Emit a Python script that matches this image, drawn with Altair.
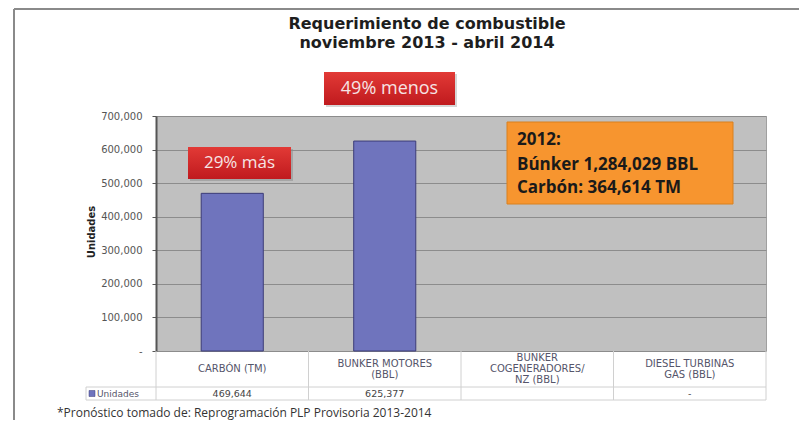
import altair as alt
import pandas as pd

# ---- data -----------------------------------------------------------
categories = ["CARBÓN (TM)", "BUNKER MOTORES (BBL)",
              "BUNKER COGENERADORES/ NZ (BBL)", "DIESEL TURBINAS GAS (BBL)"]
header_labels = ["CARBÓN (TM)", "BUNKER MOTORES\n(BBL)",
                 "BUNKER\nCOGENERADORES/\nNZ (BBL)", "DIESEL TURBINAS\nGAS (BBL)"]
units = [469644, 625377, None, 0]
table_text = ["469,644", "625,377", "", "-"]
y_ticks = [0, 100000, 200000, 300000, 400000, 500000, 600000, 700000]

title_lines = ["Requerimiento de combustible", "noviembre 2013 - abril 2014"]
note_2012 = ["2012:", "Búnker 1,284,029 BBL", "Carbón: 364,614 TM"]
footnote = "*Pronóstico tomado de: Reprogramación PLP Provisoria 2013-2014"

df = pd.DataFrame({"cat": categories, "label": header_labels,
                   "value": units, "shown": table_text})

# ---- layout ---------------------------------------------------------
W, H = 610, 235
BAR = "#6f74bd"
BAR_STROKE = "#3c3c78"
TXT = "#55556a"
LH = 11  # header line height

xscale = alt.Scale(domain=categories, paddingInner=0.593, paddingOuter=0.2965)
yscale = alt.Scale(domain=[0, 700000], nice=False, zero=True)

base = alt.Chart(df)

bars = base.transform_filter("datum.value > 0").mark_bar(
    color=BAR, stroke=BAR_STROKE, strokeWidth=1
).encode(
    x=alt.X("cat:N", scale=xscale, sort=categories,
            axis=alt.Axis(labels=False, ticks=False, title=None, grid=False,
                          domainColor="#555555", domainWidth=2)),
    y=alt.Y("value:Q", scale=yscale,
            axis=alt.Axis(values=y_ticks, title=None, grid=True,
                          gridColor="#8c8c8c", gridWidth=1,
                          labelExpr="datum.value == 0 ? '-' : format(datum.value, ',')",
                          labelFont="DejaVu Sans", labelFontSize=10,
                          labelColor="#555555", labelPadding=10,
                          tickSize=4, tickColor="#555555",
                          domainColor="#555555", domainWidth=2)),
)

header = base.transform_calculate(
    hy=f"{H + 18} - (split(datum.label, '\\n').length - 1) * {LH / 2}"
).mark_text(lineBreak="\n", lineHeight=LH, font="DejaVu Sans",
            fontSize=10, color=TXT, baseline="middle",
            align="center").encode(
    x=alt.X("cat:N", scale=xscale, sort=categories, axis=None),
    y=alt.Y("hy:Q", scale=None, axis=None),
    text="label:N",
)

vals = base.mark_text(font="DejaVu Sans", fontSize=9.5, color="#444444",
                      baseline="middle", align="center").encode(
    x=alt.X("cat:N", scale=xscale, sort=categories, axis=None),
    y=alt.value(277.5),
    text="shown:N",
)

one = alt.Data(values=[{}])


def rule(x1, x2, y1, y2, color="#d0d0d0", width=1):
    return alt.Chart(one).mark_rule(color=color, strokeWidth=width).encode(
        x=alt.value(x1), x2=alt.value(x2), y=alt.value(y1), y2=alt.value(y2))


def text(t, x, y, **kw):
    return alt.Chart(one).mark_text(text=t, **kw).encode(
        x=alt.value(x), y=alt.value(y))


def box(x1, x2, y1, y2, **kw):
    return alt.Chart(one).mark_rect(**kw).encode(
        x=alt.value(x1), x2=alt.value(x2), y=alt.value(y1), y2=alt.value(y2))


layers = []

# frame of the slide
layers.append(rule(-142, 643, -107, -107, color="#8a8a8a", width=2))
layers.append(rule(-142, -142, -107, 304, color="#8a8a8a", width=2))

# table lines
for i in range(1, 5):
    xx = i * W / 4
    layers.append(rule(xx, xx, H, 284))
layers.append(rule(0, 0, H, 284))
layers.append(rule(-70, W, 271, 271))
layers.append(rule(-70, W, 284, 284))
layers.append(rule(-70, -70, 271, 284))

# legend in table
layers.append(box(-67, -61, 274.5, 280.5, fill=BAR, stroke=BAR_STROKE, strokeWidth=0.5))
layers.append(text("Unidades", -59, 277.5, font="DejaVu Sans", fontSize=9,
                   color=TXT, align="left", baseline="middle"))

# title
layers.append(text(title_lines[0], 271, -92, font="DejaVu Sans", fontSize=16,
                   fontWeight="bold", color="#1e1e1e", align="center", baseline="middle"))
layers.append(text(title_lines[1], 271, -73.5, font="DejaVu Sans", fontSize=16,
                   fontWeight="bold", color="#1e1e1e", align="center", baseline="middle"))

# y title
layers.append(text("Unidades", -64, 116, font="DejaVu Sans", fontSize=10,
                   fontWeight="bold", color="#222222", angle=270,
                   align="center", baseline="middle"))

red = alt.LinearGradient(gradient="linear",
                         stops=[alt.GradientStop(color="#e23a36", offset=0),
                                alt.GradientStop(color="#c01a1e", offset=1)],
                         x1=0, x2=0, y1=0, y2=1)

# red annotation boxes
layers.append(box(34, 137, 33, 65, fill="#8a8a8a", opacity=0.5))
layers.append(box(32, 135, 31, 63, fill=red))
layers.append(text("29% más", 83.5, 47, font="Open Sans", fontSize=17,
                   color="#f6e4e4", align="center", baseline="middle"))
layers.append(box(170, 301, -42, -9, fill="#bbbbbb", opacity=0.6))
layers.append(box(168, 299, -44, -11, fill=red))
layers.append(text("49% menos", 233.5, -27.5, font="Open Sans", fontSize=18,
                   color="#f6e4e4", align="center", baseline="middle"))

# orange note
layers.append(box(351, 577, 6, 88, fill="#f7952f", stroke="#d9801f", strokeWidth=1))
for i, line in enumerate(note_2012):
    layers.append(text(line, 361, [24, 49, 72][i], font="Open Sans", fontSize=17,
                       fontWeight="bold", color="#1a1a1a", align="left",
                       baseline="middle"))

# footnote
layers.append(text(footnote, -99, 301, font="Open Sans", fontSize=12,
                   color="#333333", align="left", baseline="alphabetic"))

chart = alt.layer(bars, header, vals, *layers).properties(
    width=W, height=H,
    autosize=alt.AutoSizeParams(type="none"),
    padding={"left": 148, "top": 108, "right": 33, "bottom": 69},
    background="white",
).configure_view(fill="#c0c0c0", stroke="#a0a0a0", strokeWidth=1)

chart.save("out.html", embed_options={"renderer": "svg", "actions": False})
